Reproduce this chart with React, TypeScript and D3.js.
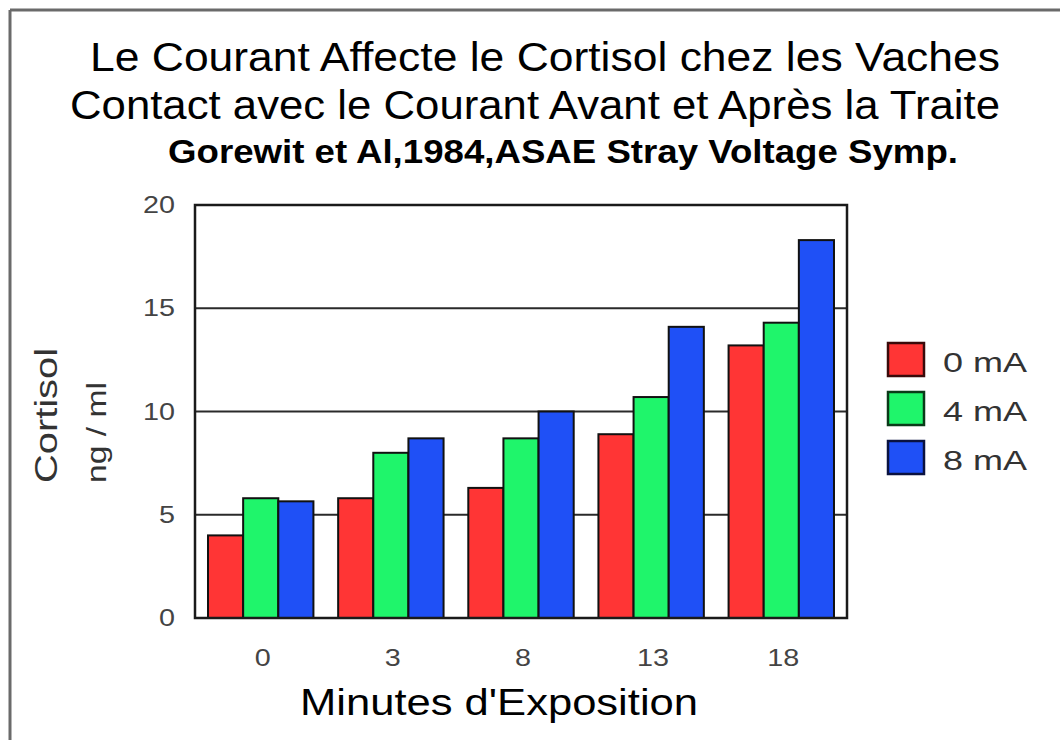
import React from "react";
import * as d3 from "d3";

const categories = ["0", "3", "8", "13", "18"];
const seriesNames = ["0 mA", "4 mA", "8 mA"];
const values0mA = [4.0, 5.8, 6.3, 8.9, 13.2];
const values4mA = [5.8, 8.0, 8.7, 10.7, 14.3];
const values8mA = [5.65, 8.7, 10.0, 14.1, 18.3];
const yTicks = [0, 5, 10, 15, 20];
const titleLines = [
  "Le Courant Affecte le Cortisol chez les Vaches",
  "Contact avec le Courant Avant et Après la Traite",
];
const subtitle = "Gorewit et Al,1984,ASAE Stray Voltage Symp.";
const xTitle = "Minutes d'Exposition";
const yTitle1 = "Cortisol";
const yTitle2 = "ng / ml";

const fills = ["#ff3535", "#1ff56b", "#1f50f6"];
const strokes = ["#3a0a0a", "#0a3a18", "#0a1240"];
const FONT = "'Liberation Sans', Arial, Helvetica, sans-serif";

export default function App() {
  const W = 1060, H = 740;
  const left = 195, right = 847, top = 205, bottom = 618;
  const series = [values0mA, values4mA, values8mA];

  const x0 = d3.scaleBand<string>().domain(categories).range([left, right]).paddingInner(0.19).paddingOuter(0.1);
  const x1 = d3.scaleBand<number>().domain([0, 1, 2]).range([0, x0.bandwidth()]).padding(0);
  const y = d3.scaleLinear().domain([0, 20]).range([bottom, top]);

  return (
    <svg width={W} height={H} style={{ position: "absolute", left: 0, top: 0, background: "#fff" }} fontFamily={FONT}>
      <rect x={0} y={0} width={W} height={H} fill="#fff" />
      {/* outer frame */}
      <line x1={10} y1={10} x2={W} y2={10} stroke="#6a6a6a" strokeWidth={3} />
      <line x1={10} y1={10} x2={10} y2={H} stroke="#6a6a6a" strokeWidth={3} />

      {/* titles */}
      <text x={545} y={71} fontSize={41} textAnchor="middle" textLength={910} lengthAdjust="spacingAndGlyphs" fill="#000">{titleLines[0]}</text>
      <text x={535} y={119} fontSize={41} textAnchor="middle" textLength={930} lengthAdjust="spacingAndGlyphs" fill="#000">{titleLines[1]}</text>
      <text x={563} y={163} fontSize={34} fontWeight="bold" textAnchor="middle" textLength={790} lengthAdjust="spacingAndGlyphs" fill="#000">{subtitle}</text>

      {/* gridlines */}
      {yTicks.filter((t) => t > 0).map((t) => (
        <line key={t} x1={left} x2={right} y1={y(t)} y2={y(t)} stroke="#2a2a2a" strokeWidth={2} />
      ))}

      {/* bars */}
      {categories.map((c, i) => (
        <g key={c} transform={`translate(${x0(c)},0)`}>
          {series.map((s, k) => (
            <rect
              key={k}
              x={x1(k)!}
              y={y(s[i])}
              width={x1.bandwidth()}
              height={y(0) - y(s[i])}
              fill={fills[k]}
              stroke="#111"
              strokeWidth={2}
            />
          ))}
        </g>
      ))}

      {/* frame */}
      <rect x={left} y={top} width={right - left} height={bottom - top} fill="none" stroke="#1a1a1a" strokeWidth={2.5} />

      {/* y tick labels */}
      {yTicks.map((t) => (
        <text key={t} x={175} y={y(t) + 8} fontSize={23} textAnchor="end" fill="#444" textLength={String(t).length * 16} lengthAdjust="spacingAndGlyphs">{t}</text>
      ))}

      {/* x tick labels */}
      {categories.map((c) => (
        <text key={c} x={x0(c)! + x0.bandwidth() / 2 + 2} y={666} fontSize={23} textAnchor="middle" fill="#444" textLength={c.length * 16} lengthAdjust="spacingAndGlyphs">{c}</text>
      ))}

      {/* axis titles */}
      <text x={499} y={715} fontSize={36} textAnchor="middle" textLength={398} lengthAdjust="spacingAndGlyphs" fill="#000">{xTitle}</text>
      <text transform="translate(57,483) rotate(-90)" fontSize={31} textAnchor="start" textLength={135} lengthAdjust="spacingAndGlyphs" fill="#333">{yTitle1}</text>
      <text transform="translate(106,483) rotate(-90)" fontSize={28} textAnchor="start" textLength={101} lengthAdjust="spacingAndGlyphs" fill="#333">{yTitle2}</text>

      {/* legend */}
      {seriesNames.map((n, k) => (
        <g key={n} transform={`translate(888,${343 + k * 49})`}>
          <rect x={0} y={0} width={36} height={33} fill={fills[k]} stroke={strokes[k]} strokeWidth={2.5} />
          <text x={55} y={29} fontSize={28} fill="#333" textLength={84} lengthAdjust="spacingAndGlyphs">{n}</text>
        </g>
      ))}
    </svg>
  );
}
